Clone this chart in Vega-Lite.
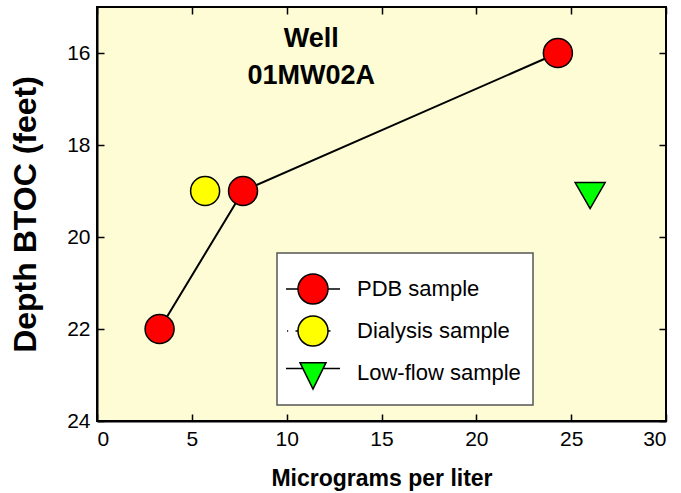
{
  "$schema": "https://vega.github.io/schema/vega-lite/v6.json",
  "width": 569,
  "height": 414,
  "autosize": "none",
  "padding": {"left": 97, "top": 7, "right": 15, "bottom": 72},
  "background": "white",
  "config": {
    "font": "Liberation Sans",
    "view": {"fill": "#fdfcd4", "stroke": "black", "strokeWidth": 2},
    "axis": {
      "grid": false,
      "domainColor": "black",
      "domainWidth": 2,
      "tickColor": "black",
      "tickWidth": 1.5,
      "tickSize": -7,
      "labelFont": "Liberation Sans",
      "labelFontSize": 21,
      "labelColor": "black",
      "titleFont": "Liberation Sans",
      "titleFontWeight": "bold",
      "titleColor": "black"
    },
    "legend": {"strokeWidth": 1.5}
  },
  "datasets": {
    "samples": [
      {"sample": "PDB sample", "conc": 3.3, "depth": 22},
      {"sample": "PDB sample", "conc": 7.7, "depth": 19},
      {"sample": "PDB sample", "conc": 24.3, "depth": 16},
      {"sample": "Dialysis sample", "conc": 5.7, "depth": 19},
      {"sample": "Low-flow sample", "conc": 26, "depth": 19.1}
    ],
    "note": [{"conc": 11.3, "depth": 15.86, "text": "Well\n01MW02A"}]
  },
  "resolve": {"axis": {"x": "independent", "y": "independent"}},
  "layer": [
    {
      "data": {"name": "samples"},
      "transform": [{"filter": "datum.sample === 'PDB sample'"}],
      "mark": {"type": "line", "color": "black", "strokeWidth": 2},
      "encoding": {
        "x": {"field": "conc", "type": "quantitative",
              "scale": {"domain": [0, 30], "nice": false, "zero": false},
              "axis": {"orient": "bottom", "values": [0, 5, 10, 15, 20, 25, 30], "title": "Micrograms per liter", "titleFontSize": 23, "labelPadding": 14, "titlePadding": 18}},
        "y": {"field": "depth", "type": "quantitative",
              "scale": {"domain": [15, 24], "nice": false, "zero": false, "reverse": true},
              "axis": {"orient": "left", "values": [16, 18, 20, 22, 24], "title": "Depth BTOC (feet)", "titleFontSize": 32, "labelPadding": 14, "titlePadding": 24}},
        "order": {"field": "depth", "type": "quantitative"}
      }
    },
    {
      "data": {"name": "samples"},
      "mark": {"type": "point", "filled": true, "opacity": 1, "stroke": "black", "strokeWidth": 1.5, "size": 0},
      "encoding": {
        "x": {"field": "conc", "type": "quantitative", "axis": null},
        "y": {"field": "depth", "type": "quantitative", "axis": null},
        "fill": {"field": "sample", "type": "nominal",
                 "scale": {"domain": ["PDB sample", "Dialysis sample", "Low-flow sample"], "range": ["#ff0000", "#ffff00", "#00ff00"]},
                 "legend": {"title": null, "orient": "none", "legendX": 180, "legendY": 246, "padding": 12,
                            "fillColor": "white", "strokeColor": "#555555",
                            "labelFont": "Liberation Sans", "labelFontSize": 22, "labelColor": "black",
                            "labelOffset": 20, "labelLimit": 400, "symbolSize": 2116, "rowPadding": -14,
                            "symbolStrokeColor": "black", "symbolStrokeWidth": 1.5}},
        "shape": {"field": "sample", "type": "nominal",
                  "scale": {"domain": ["PDB sample", "Dialysis sample", "Low-flow sample"],
                            "range": [
                              "M-0.652,0 A0.652,0.652 0 1,1 0.652,0 A0.652,0.652 0 1,1 -0.652,0 Z M-1.174,0 L-0.652,0 M0.652,0 L1.174,0",
                              "M-0.652,0 A0.652,0.652 0 1,1 0.652,0 A0.652,0.652 0 1,1 -0.652,0 Z M-1.13,0 L-1.08,0 M-0.76,0 L-0.68,0 M0.68,0 L0.76,0",
                              "M-0.565,-0.45 L0.565,-0.45 L0,0.7 Z M-1.174,-0.2 L-0.47,-0.2 M0.47,-0.2 L1.174,-0.2"
                            ]}}
      }
    },
    {
      "data": {"name": "samples"},
      "transform": [{"filter": "datum.sample !== 'Low-flow sample'"}],
      "mark": {"type": "point", "shape": "circle", "filled": true, "opacity": 1, "stroke": "black", "strokeWidth": 1.5, "size": 841},
      "encoding": {
        "x": {"field": "conc", "type": "quantitative", "axis": null},
        "y": {"field": "depth", "type": "quantitative", "axis": null},
        "fill": {"field": "sample", "type": "nominal", "legend": null}
      }
    },
    {
      "data": {"name": "samples"},
      "transform": [{"filter": "datum.sample === 'Low-flow sample'"}],
      "mark": {"type": "point", "shape": "triangle-down", "filled": true, "opacity": 1, "stroke": "black", "strokeWidth": 1.5, "size": 900},
      "encoding": {
        "x": {"field": "conc", "type": "quantitative", "axis": null},
        "y": {"field": "depth", "type": "quantitative", "axis": null},
        "fill": {"field": "sample", "type": "nominal", "legend": null}
      }
    },
    {
      "data": {"name": "note"},
      "mark": {"type": "text", "font": "Liberation Sans", "fontWeight": "bold", "fontSize": 27, "lineBreak": "\n", "lineHeight": 37, "align": "center", "baseline": "alphabetic", "color": "black"},
      "encoding": {
        "x": {"field": "conc", "type": "quantitative",
              "axis": {"orient": "top", "values": [0, 5, 10, 15, 20, 25, 30], "labels": false, "title": null, "domain": false}},
        "y": {"field": "depth", "type": "quantitative",
              "axis": {"orient": "right", "values": [16, 18, 20, 22, 24], "labels": false, "title": null, "domain": false}},
        "text": {"field": "text"}
      }
    }
  ]
}
